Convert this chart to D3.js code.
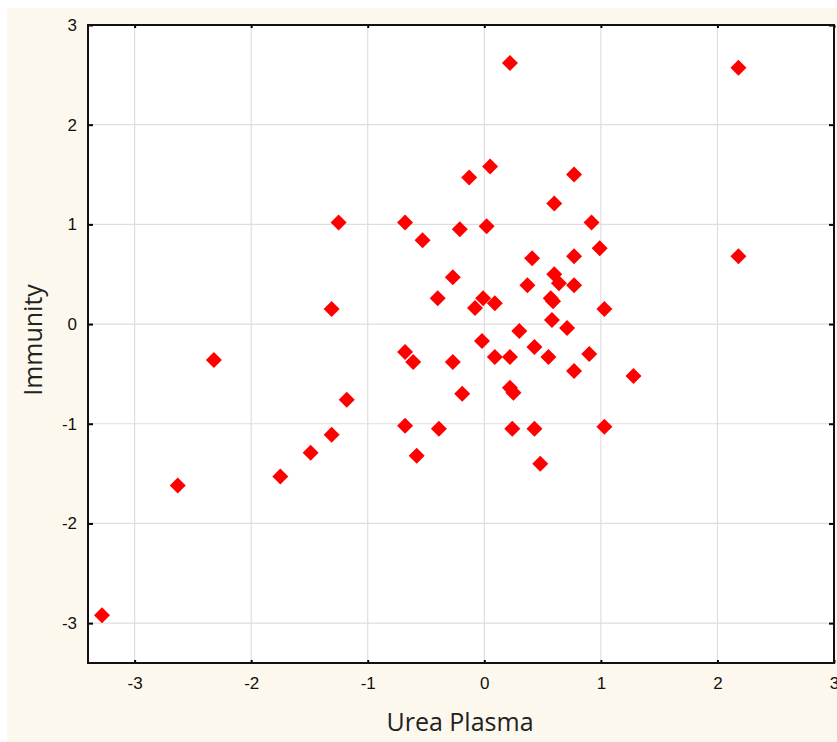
<!DOCTYPE html>
<html>
<head>
<meta charset="utf-8">
<script src="https://cdn.jsdelivr.net/npm/d3@7"></script>
<style>
  html, body { margin: 0; padding: 0; background: #ffffff; }
  svg { display: block; }
</style>
</head>
<body>
<div id="chart-area"></div>
<script>
// Urea Plasma (x) vs Immunity (y)
var ureaPlasma = [
  -3.28, -2.63, -2.32, -1.75, -1.49, -1.31, -1.18, -1.31, -1.25, -0.68,
  -0.53, -0.68, -0.61, -0.68, -0.58, -0.39, -0.40, -0.27, -0.27, -0.21,
  -0.19, -0.13, -0.08, -0.01, -0.02, 0.02, 0.05, 0.09, 0.09, 0.22,
  0.22, 0.22, 0.25, 0.24, 0.30, 0.37, 0.41, 0.43, 0.43, 0.48,
  0.55, 0.57, 0.58, 0.59, 0.60, 0.60, 0.64, 0.71, 0.77, 0.77,
  0.77, 0.77, 0.90, 0.92, 0.99, 1.03, 1.03, 1.28, 2.18, 2.18
];
var immunity = [
  -2.92, -1.62, -0.36, -1.53, -1.29, -1.11, -0.76, 0.15, 1.02, 1.02,
  0.84, -0.28, -0.38, -1.02, -1.32, -1.05, 0.26, 0.47, -0.38, 0.95,
  -0.70, 1.47, 0.16, 0.26, -0.17, 0.98, 1.58, 0.21, -0.33, 2.62,
  -0.33, -0.64, -0.69, -1.05, -0.07, 0.39, 0.66, -0.23, -1.05, -1.40,
  -0.33, 0.26, 0.04, 0.23, 1.21, 0.50, 0.41, -0.04, 1.50, 0.68,
  0.39, -0.47, -0.30, 1.02, 0.76, 0.15, -1.03, -0.52, 2.57, 0.68
];
var xTicks = [-3, -2, -1, 0, 1, 2, 3];
var yTicks = [-3, -2, -1, 0, 1, 2, 3];

var points = ureaPlasma.map(function (u, i) { return { x: u, y: immunity[i] }; });

const svgWidth = 837;
const svgHeight = 742;
const plot = { left: 88, top: 25, right: 834, bottom: 663 };

var canvas = d3.select("#chart-area").append("svg")
               .attr("width", svgWidth)
               .attr("height", svgHeight);

// cream backdrop
canvas.append("rect")
      .attr("x", 7).attr("y", 8)
      .attr("width", svgWidth - 7).attr("height", svgHeight - 8)
      .attr("fill", "#fdf8ee");

var xScale = d3.scaleLinear().domain([-3.4, 3]).range([plot.left, plot.right]);
var yScale = d3.scaleLinear().domain([-3.4, 3]).range([plot.bottom, plot.top]);

canvas.append("rect")
      .attr("x", plot.left).attr("y", plot.top)
      .attr("width", plot.right - plot.left).attr("height", plot.bottom - plot.top)
      .attr("fill", "#ffffff");

// grid
var grid = canvas.append("g").attr("class", "grid");
grid.selectAll(".vg").data(xTicks.filter(d => d < 3)).enter()
    .append("line")
    .attr("x1", d => xScale(d)).attr("x2", d => xScale(d))
    .attr("y1", plot.top).attr("y2", plot.bottom)
    .attr("stroke", "#dedede").attr("stroke-width", 1.2);
grid.selectAll(".hg").data(yTicks.filter(d => d < 3)).enter()
    .append("line")
    .attr("x1", plot.left).attr("x2", plot.right)
    .attr("y1", d => yScale(d)).attr("y2", d => yScale(d))
    .attr("stroke", "#dedede").attr("stroke-width", 1.2);

// axes
var fmt = d => String(d);
var xAxis = d3.axisBottom(xScale).tickValues(xTicks).tickSize(-3).tickPadding(16).tickFormat(fmt);
var yAxis = d3.axisLeft(yScale).tickValues(yTicks).tickSize(-5).tickPadding(11).tickFormat(fmt);
var xTop = d3.axisTop(xScale).tickValues(xTicks).tickSize(-3).tickFormat("");
var yRight = d3.axisRight(yScale).tickValues(yTicks).tickSize(-5).tickFormat("");

function styleAxis(g) {
  g.select(".domain").remove();
  g.attr("font-family", "'Liberation Sans', Arial, sans-serif").attr("font-size", 17);
  g.selectAll(".tick line").attr("stroke", "#000").attr("stroke-width", 2);
  g.selectAll(".tick text").attr("fill", "#111");
}

canvas.append("g").attr("transform", "translate(0," + plot.bottom + ")").call(xAxis).call(styleAxis)
      .selectAll("text").attr("dy", "0.6em");
canvas.append("g").attr("transform", "translate(" + plot.left + ",0)").call(yAxis).call(styleAxis);
canvas.append("g").attr("transform", "translate(0," + plot.top + ")").call(xTop).call(styleAxis);
canvas.append("g").attr("transform", "translate(" + plot.right + ",0)").call(yRight).call(styleAxis);

// frame
canvas.append("rect")
      .attr("x", plot.left).attr("y", plot.top)
      .attr("width", plot.right - plot.left).attr("height", plot.bottom - plot.top)
      .attr("fill", "none").attr("stroke", "#111").attr("stroke-width", 2);

// markers
var diamond = "M0,-8L8,0L0,8L-8,0Z";
canvas.append("g").selectAll("path").data(points).enter()
      .append("path")
      .attr("d", diamond)
      .attr("transform", d => "translate(" + xScale(d.x) + "," + yScale(d.y) + ")")
      .attr("fill", "#ff0000");

// titles
canvas.append("text")
      .attr("x", 460).attr("y", 731)
      .attr("text-anchor", "middle")
      .attr("font-family", "'Open Sans', 'Noto Sans', sans-serif")
      .attr("font-size", 25)
      .attr("fill", "#222")
      .text("Urea Plasma");

canvas.append("text")
      .attr("transform", "translate(42,340) rotate(-90)")
      .attr("text-anchor", "middle")
      .attr("font-family", "'Open Sans', 'Noto Sans', sans-serif")
      .attr("font-size", 25)
      .attr("fill", "#222")
      .text("Immunity");
</script>
</body>
</html>
